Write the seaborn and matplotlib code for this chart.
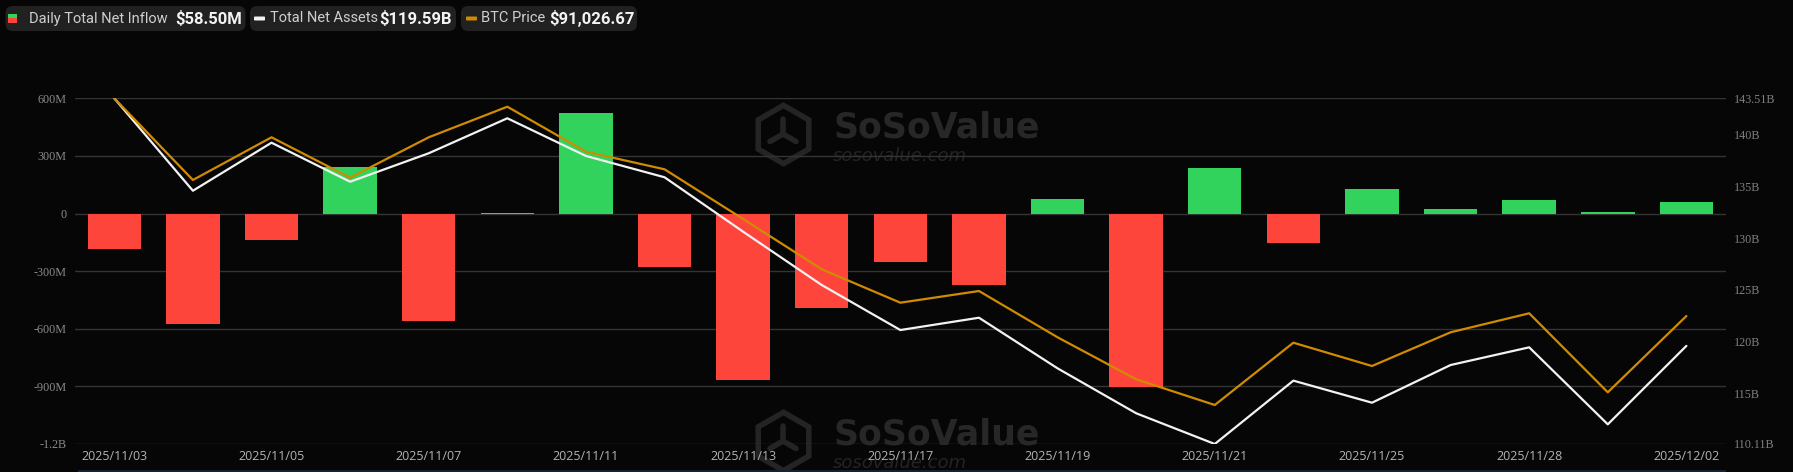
import matplotlib
matplotlib.use("Agg")
import matplotlib.pyplot as plt
import seaborn as sns
import numpy as np
import pandas as pd
from matplotlib.lines import Line2D
from matplotlib.patches import FancyBboxPatch, Rectangle

# ---- data ----
dates = ["2025/11/03", "2025/11/04", "2025/11/05", "2025/11/06", "2025/11/07",
         "2025/11/10", "2025/11/11", "2025/11/12", "2025/11/13", "2025/11/14",
         "2025/11/17", "2025/11/18", "2025/11/19", "2025/11/20", "2025/11/21",
         "2025/11/24", "2025/11/25", "2025/11/26", "2025/11/28", "2025/12/01",
         "2025/12/02"]
net_inflow_m = [-186.5, -577.7, -137.0, 240.0, -558.4, 1.2, 524.0, -278.0,
                -866.7, -492.1, -254.5, -372.7, 75.4, -903.1, 238.4, -151.1,
                128.6, 21.1, 71.4, 8.5, 58.50]
total_assets_b = [143.51, 134.58, 139.22, 135.45, 138.20, 141.58, 137.94,
                  135.88, 130.62, 125.47, 121.12, 122.31, 117.42, 113.08,
                  110.11, 116.23, 114.10, 117.74, 119.45, 112.01, 119.59]
btc_price = [107500, 101318, 104549, 101492, 104549, 106864, 103460, 102128,
             98367, 94561, 92034, 92919, 89416, 86238, 84293, 89007, 87244,
             89794, 91232, 85254, 91026.67]

left_ticks = [-1200, -900, -600, -300, 0, 300, 600]
left_labels = ["-1.2B", "-900M", "-600M", "-300M", "0", "300M", "600M"]
right_ticks = [110.11, 115, 120, 125, 130, 135, 140, 143.51]
right_labels = ["110.11B", "115B", "120B", "125B", "130B", "135B", "140B", "143.51B"]

# ---- style ----
BG = "#060606"
GREEN = "#32d35d"
RED = "#fe453c"
WHITE = "#f2f2f2"
ORANGE = "#d08b00"
GRID = "#343434"

W, H = 1793, 472
sns.set_style("dark")
plt.rcParams["font.family"] = ["Open Sans", "DejaVu Sans"]

fig = plt.figure(figsize=(W / 100, H / 100), dpi=100, facecolor=BG)
ax = fig.add_axes([75 / W, 1 - 444 / H, (1725.7 - 75) / W, (444 - 98.3) / H])
ax.set_facecolor(BG)

def px(x, y):
    return x / W, 1 - y / H

# watermarks (behind everything)
for dy in (0, 307):
    ax.text(*px(833, 137.7 + dy), "SoSoValue", transform=fig.transFigure,
            fontsize=25, fontweight="bold", color="#272727", family="DejaVu Sans",
            va="baseline", ha="left", zorder=0.1, clip_on=False)
    ax.text(*px(833, 161.5 + dy), "sosovalue.com", transform=fig.transFigure,
            fontsize=13, style="italic", color="#242424", family="DejaVu Sans",
            va="baseline", ha="left", zorder=0.1, clip_on=False)
    cx, cy = px(783, 134 + dy)
    ax.add_line(Line2D([cx], [cy], marker="h", markersize=42, mfc="none",
                       mec="#242424", mew=4, transform=fig.transFigure,
                       zorder=0.1, clip_on=False))
    for ang in (90, 210, 330):
        ex = 783 + 15 * np.cos(np.radians(ang))
        ey = 134 + dy - 15 * np.sin(np.radians(ang))
        x0, y0 = px(783, 134 + dy)
        x1, y1 = px(ex, ey)
        ax.add_line(Line2D([x0, x1], [y0, y1], color="#242424", lw=4,
                           transform=fig.transFigure, zorder=0.1, clip_on=False))

# bars
df = pd.DataFrame({"pos": range(len(dates)), "inflow": net_inflow_m})
df["dir"] = np.where(df["inflow"] >= 0, "in", "out")
sns.barplot(data=df, x="pos", y="inflow", hue="dir",
            palette={"in": GREEN, "out": RED}, dodge=False, width=0.68,
            saturation=1, edgecolor="none", linewidth=0,
            legend=False, ax=ax, zorder=2)
ax.set_xlim(-0.5, len(dates) - 0.5)
ax.set_ylim(-1200, 600)
ax.set_yticks(left_ticks)
ax.set_yticklabels(left_labels, family="Liberation Serif", fontsize=8.7, color="#8a8a8a")
ax.set_xticks(range(0, len(dates), 2))
ax.set_xticklabels(dates[::2], fontsize=9, color="#b4b4b4")
ax.tick_params(axis="y", length=0, pad=6)
ax.tick_params(axis="x", length=0, pad=4)
ax.grid(axis="y", color=GRID, lw=1)
ax.grid(axis="x", visible=False)
ax.set_axisbelow(True)
ax.set_xlabel("")
ax.set_ylabel("")
for s in ax.spines.values():
    s.set_visible(False)

# total net assets on right axis
ax2 = ax.twinx()
pos = np.arange(len(dates))
sns.lineplot(x=pos, y=total_assets_b, ax=ax2, color=WHITE, lw=1.6)
ax2.set_ylim(110.11, 143.51)
ax2.set_yticks(right_ticks)
ax2.set_yticklabels(right_labels, family="Liberation Serif", fontsize=8.7, color="#808080")
ax2.tick_params(axis="y", length=0, pad=6)
ax2.grid(False)
ax2.set_ylabel("")
for s in ax2.spines.values():
    s.set_visible(False)

# btc price on hidden axis
ax3 = ax.twinx()
sns.lineplot(x=pos, y=btc_price, ax=ax3, color=ORANGE, lw=1.6)
ax3.set_ylim(81342, 107500)
ax3.set_yticks([])
ax3.grid(False)
ax3.set_ylabel("")
for s in ax3.spines.values():
    s.set_visible(False)
ax.set_xlim(-0.5, len(dates) - 0.5)

# bottom slider strip
fig.add_artist(Rectangle(px(78, 472), (1726 - 78) / W, 2.5 / H,
                         transform=fig.transFigure, color="#17222e", lw=0))

# ---- top legend boxes ----
boxes = [
    (5.5, 245.5, "Daily Total Net Inflow", f"${net_inflow_m[-1]:.2f}M", 29, 175),
    (250, 456, "Total Net Assets", f"${total_assets_b[-1]:.2f}B", 270, 379),
    (461, 637, "BTC Price", f"${btc_price[-1]:,.2f}", 481, 549),
]
for x0, x1, label, value, lx, vx in boxes:
    bx, by = px(x0, 31)
    fig.add_artist(FancyBboxPatch((bx, by), (x1 - x0) / W, 25 / H,
                                  boxstyle="round,pad=0,rounding_size=0.004",
                                  transform=fig.transFigure, fc="#212121", ec="none",
                                  mutation_aspect=W / H))
    fig.text(*px(lx, 18.5), label, fontsize=10.5, color="#cfcfcf",
             family=["Roboto", "DejaVu Sans"], va="center", ha="left")
    fig.text(*px(vx, 18.5), value, fontsize=12, color="#f4f4f4", fontweight="bold",
             family=["Roboto", "DejaVu Sans"], va="center", ha="left")

# legend icons
fig.add_artist(Rectangle(px(8, 18.5), 9 / W, 4.5 / H, transform=fig.transFigure,
                         color=GREEN, lw=0))
fig.add_artist(Rectangle(px(8, 23), 9 / W, 4.5 / H, transform=fig.transFigure,
                         color=RED, lw=0))
for xa, c in ((254, WHITE), (466, ORANGE)):
    fig.add_artist(FancyBboxPatch(px(xa, 20.5), 11 / W, 4 / H,
                                  boxstyle="round,pad=0,rounding_size=0.001",
                                  transform=fig.transFigure, fc=c, ec="none"))

fig.savefig("out.png", dpi=100, facecolor=BG)
